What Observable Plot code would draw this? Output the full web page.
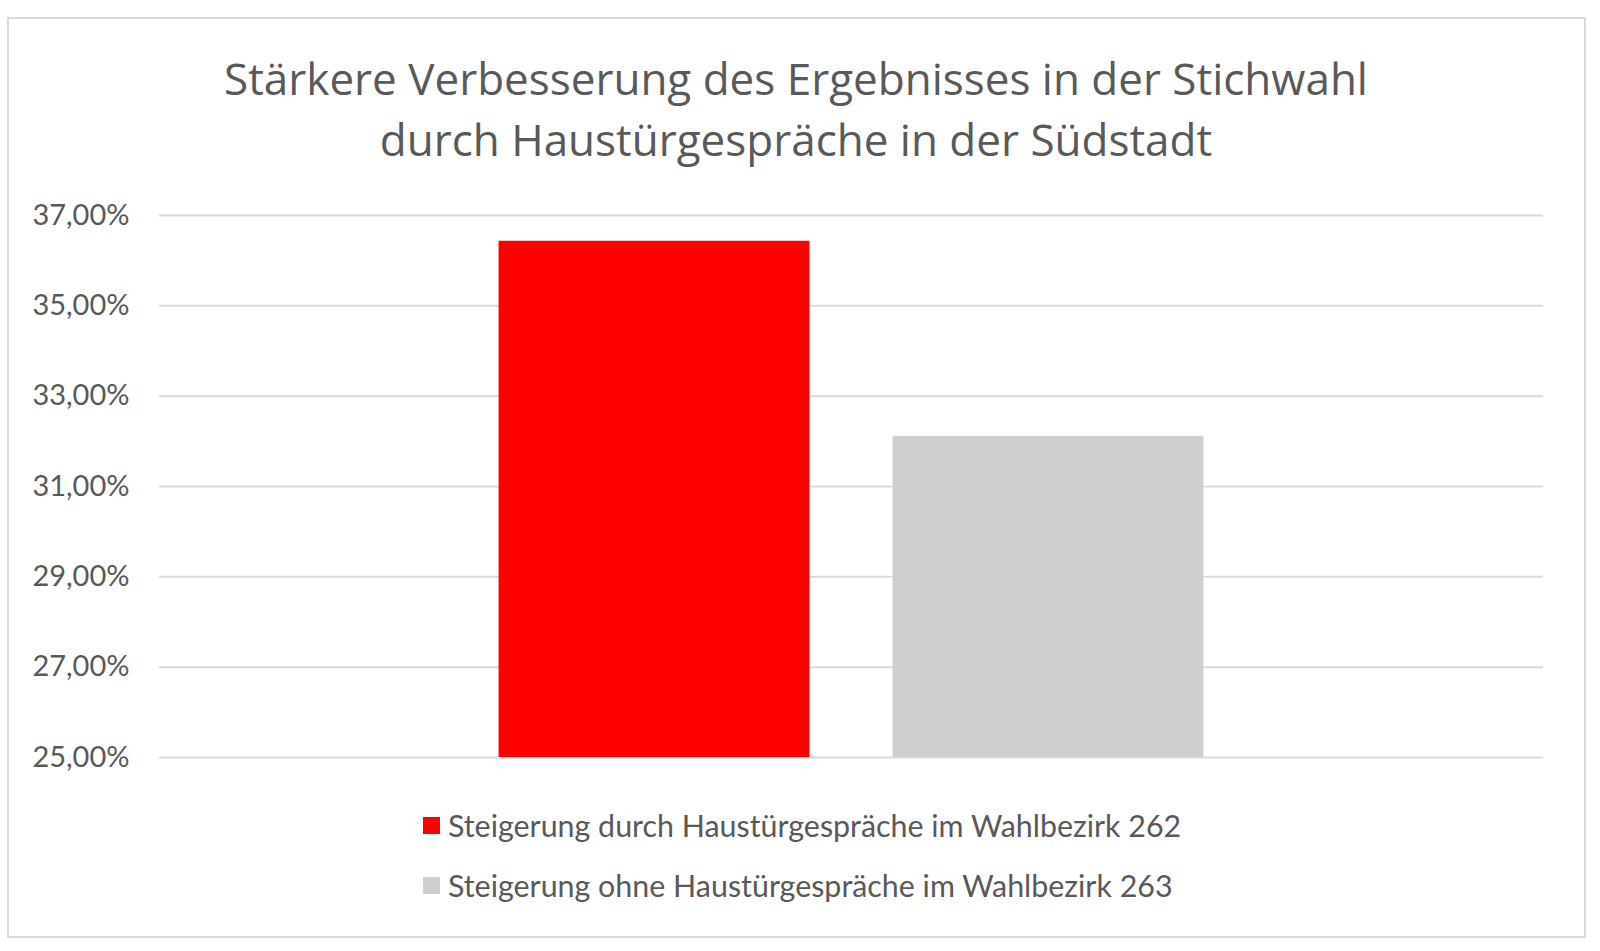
<!DOCTYPE html>
<html>
<head>
<meta charset="utf-8">
<script src="https://cdn.jsdelivr.net/npm/d3@7"></script>
<script src="https://cdn.jsdelivr.net/npm/@observablehq/plot@0.6"></script>
<style>
  html, body { margin: 0; padding: 0; background: #fff; }
  body { width: 1600px; height: 951px; position: relative; overflow: hidden; font-family: Lato, "Open Sans", sans-serif; color: #595959; }
  #frame { position: absolute; left: 7px; top: 17px; width: 1579px; height: 921px; box-sizing: border-box; border: 2px solid #d9d9d9; }
  #title { position: absolute; left: 0; width: 1592px; top: 48px; text-align: center; font-family: "Open Sans", Lato, sans-serif; font-size: 44px; line-height: 61px; color: #595959; }
  #chart { position: absolute; left: 8px; top: 190px; }
  #legend { position: absolute; left: 423px; top: 808px; font-size: 30.4px; color: #595959; }
  .item { display: flex; align-items: center; height: 34px; margin-bottom: 26px; white-space: nowrap; }
  .sw { width: 17px; height: 17px; margin-right: 8px; flex: none; }
</style>
</head>
<body>
<div id="frame"></div>
<div id="title">Stärkere Verbesserung des Ergebnisses in der Stichwahl<br>durch Haustürgespräche in der Südstadt</div>
<div id="chart"></div>
<div id="legend"></div>
<script>
const categories = [
  "Steigerung durch Haustürgespräche im Wahlbezirk 262",
  "Steigerung ohne Haustürgespräche im Wahlbezirk 263"
];
const values = [36.43, 32.11];
const colors = ["#ff0000", "#d0cece"];
const yTicks = [25, 27, 29, 31, 33, 35, 37];
const yMin = 25;
const yMax = 37;

const data = categories.map((c, i) => ({category: c, value: values[i], color: colors[i]}));
const fmt = d => d.toFixed(2).replace(".", ",") + "%";

const chart = Plot.plot({
  width: 1576,
  height: 587,
  marginLeft: 151,
  marginRight: 41,
  marginTop: 25,
  marginBottom: 20,
  style: {fontFamily: "Lato, 'Open Sans', sans-serif", fontSize: "29px", color: "#595959", background: "transparent"},
  x: {domain: categories, paddingInner: 0.211, paddingOuter: 0.862, axis: null, round: false},
  y: {domain: [yMin, yMax], ticks: yTicks, tickFormat: fmt, tickSize: 0, tickPadding: 30, label: null},
  marks: [
    Plot.gridY(yTicks, {stroke: "#d9d9d9", strokeOpacity: 1, strokeWidth: 2}),
    Plot.barY(data, {x: "category", y1: yMin, y2: "value", fill: "color"}),
    Plot.axisY(yTicks, {tickFormat: fmt, tickSize: 0, tickPadding: 30, fill: "#595959", fontSize: 29, label: null})
  ]
});
document.getElementById("chart").appendChild(chart);

const legend = document.getElementById("legend");
data.forEach(d => {
  const item = document.createElement("div");
  item.className = "item";
  const sw = document.createElement("span");
  sw.className = "sw";
  sw.style.background = d.color;
  const t = document.createElement("span");
  t.textContent = d.category;
  item.appendChild(sw);
  item.appendChild(t);
  legend.appendChild(item);
});
</script>
</body>
</html>
